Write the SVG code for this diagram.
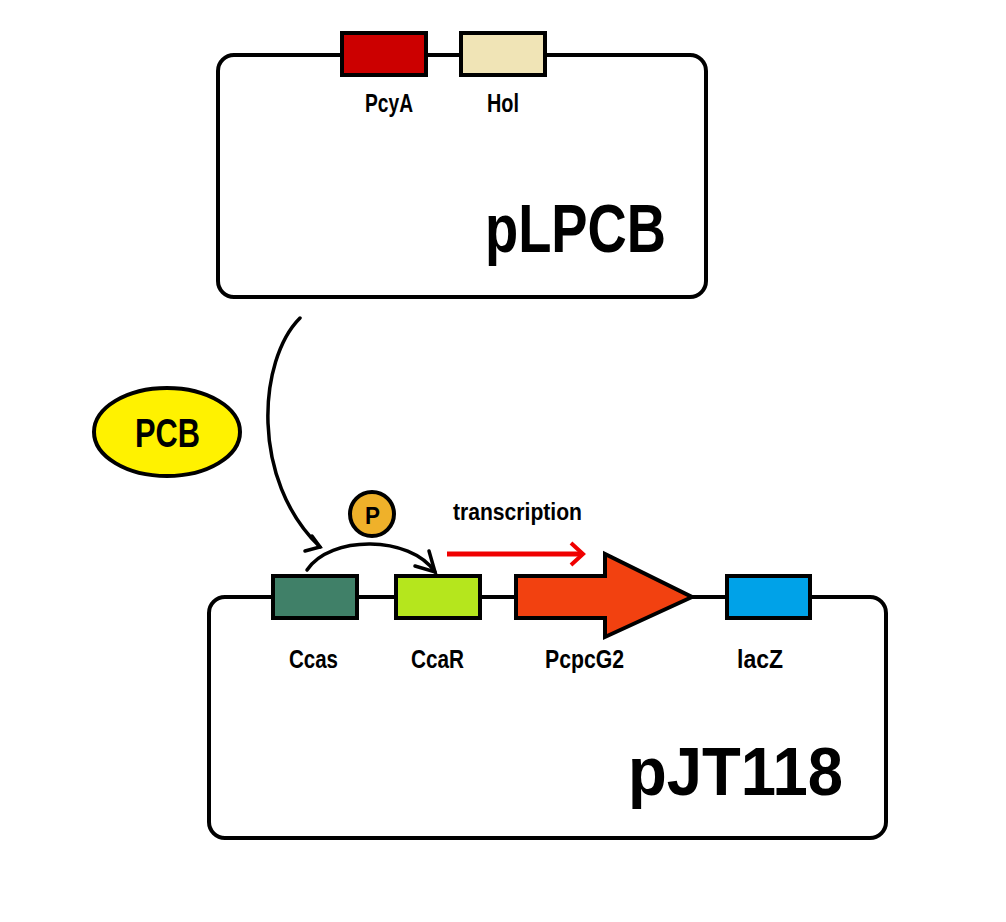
<svg xmlns="http://www.w3.org/2000/svg" width="1006" height="922" viewBox="0 0 1006 922">
<style>
.box{fill:#fff;stroke:#000;stroke-width:4}
.gene{stroke:#000;stroke-width:4}
.lbl{font-family:"Liberation Sans",Arial,sans-serif;font-weight:bold;fill:#000}
.con{fill:none;stroke:#000;stroke-width:3.5;stroke-linecap:round}
</style>
<rect width="1006" height="922" fill="#fff"/>
<g id="pLPCB">
<rect class="box" x="218" y="55" width="488" height="242" rx="16"/>
<text class="lbl" x="485" y="252" font-size="68" textLength="181" lengthAdjust="spacingAndGlyphs">pLPCB</text>
</g>
<g id="PcyA">
<rect class="gene" x="342" y="33" width="84" height="42" fill="#CC0000"/>
<text class="lbl" x="365" y="112" font-size="25" textLength="48" lengthAdjust="spacingAndGlyphs">PcyA</text>
</g>
<g id="Hol">
<rect class="gene" x="461" y="33" width="84" height="42" fill="#F0E4B6"/>
<text class="lbl" x="487" y="112" font-size="25" textLength="32" lengthAdjust="spacingAndGlyphs">Hol</text>
</g>
<g id="pJT118">
<rect class="box" x="209" y="597" width="677" height="241" rx="16"/>
<text class="lbl" x="628" y="795" font-size="68" textLength="215" lengthAdjust="spacingAndGlyphs">pJT118</text>
</g>
<g id="Ccas">
<rect class="gene" x="273" y="576" width="84" height="42" fill="#408068"/>
<text class="lbl" x="289" y="668" font-size="25" textLength="49" lengthAdjust="spacingAndGlyphs">Ccas</text>
</g>
<g id="CcaR">
<rect class="gene" x="396" y="576" width="84" height="42" fill="#B5E61D"/>
<text class="lbl" x="411" y="668" font-size="25" textLength="53" lengthAdjust="spacingAndGlyphs">CcaR</text>
</g>
<g id="PcpcG2">
<polygon class="gene" points="516,576 605,576 605,554 692,597 605,637 605,618 516,618" fill="#F24110"/>
<text class="lbl" x="545" y="668" font-size="25" textLength="79" lengthAdjust="spacingAndGlyphs">PcpcG2</text>
</g>
<g id="lacZ">
<rect class="gene" x="727" y="576" width="83" height="42" fill="#00A2E8"/>
<text class="lbl" x="737" y="668" font-size="25" textLength="46" lengthAdjust="spacingAndGlyphs">lacZ</text>
</g>
<g id="PCB">
<ellipse cx="167" cy="432" rx="73" ry="44" fill="#FFF200" stroke="#000" stroke-width="4"/>
<text class="lbl" x="135" y="447" font-size="40" textLength="65" lengthAdjust="spacingAndGlyphs">PCB</text>
</g>
<g id="P">
<circle cx="372" cy="514" r="22" fill="#EFB12A" stroke="#000" stroke-width="4"/>
<text class="lbl" x="365" y="524" font-size="24" textLength="15" lengthAdjust="spacingAndGlyphs">P</text>
</g>
<g id="transcription">
<text class="lbl" x="453" y="520" font-size="23" textLength="129" lengthAdjust="spacingAndGlyphs">transcription</text>
</g>
<g id="connectors">
<path class="con" d="M300,318 C258,360 250,480 320,547"/>
<path class="con" d="M305,551 L320,547 L312,536"/>
<path class="con" d="M307,570 C330,535 410,535 435,572"/>
<path class="con" d="M429,551 L435,572 L415,566"/>
<line x1="447" y1="554" x2="582" y2="554" stroke="#F00000" stroke-width="5"/>
<path d="M571,543 L583,554 L571,565" fill="none" stroke="#F00000" stroke-width="4"/>
</g>
</svg>
